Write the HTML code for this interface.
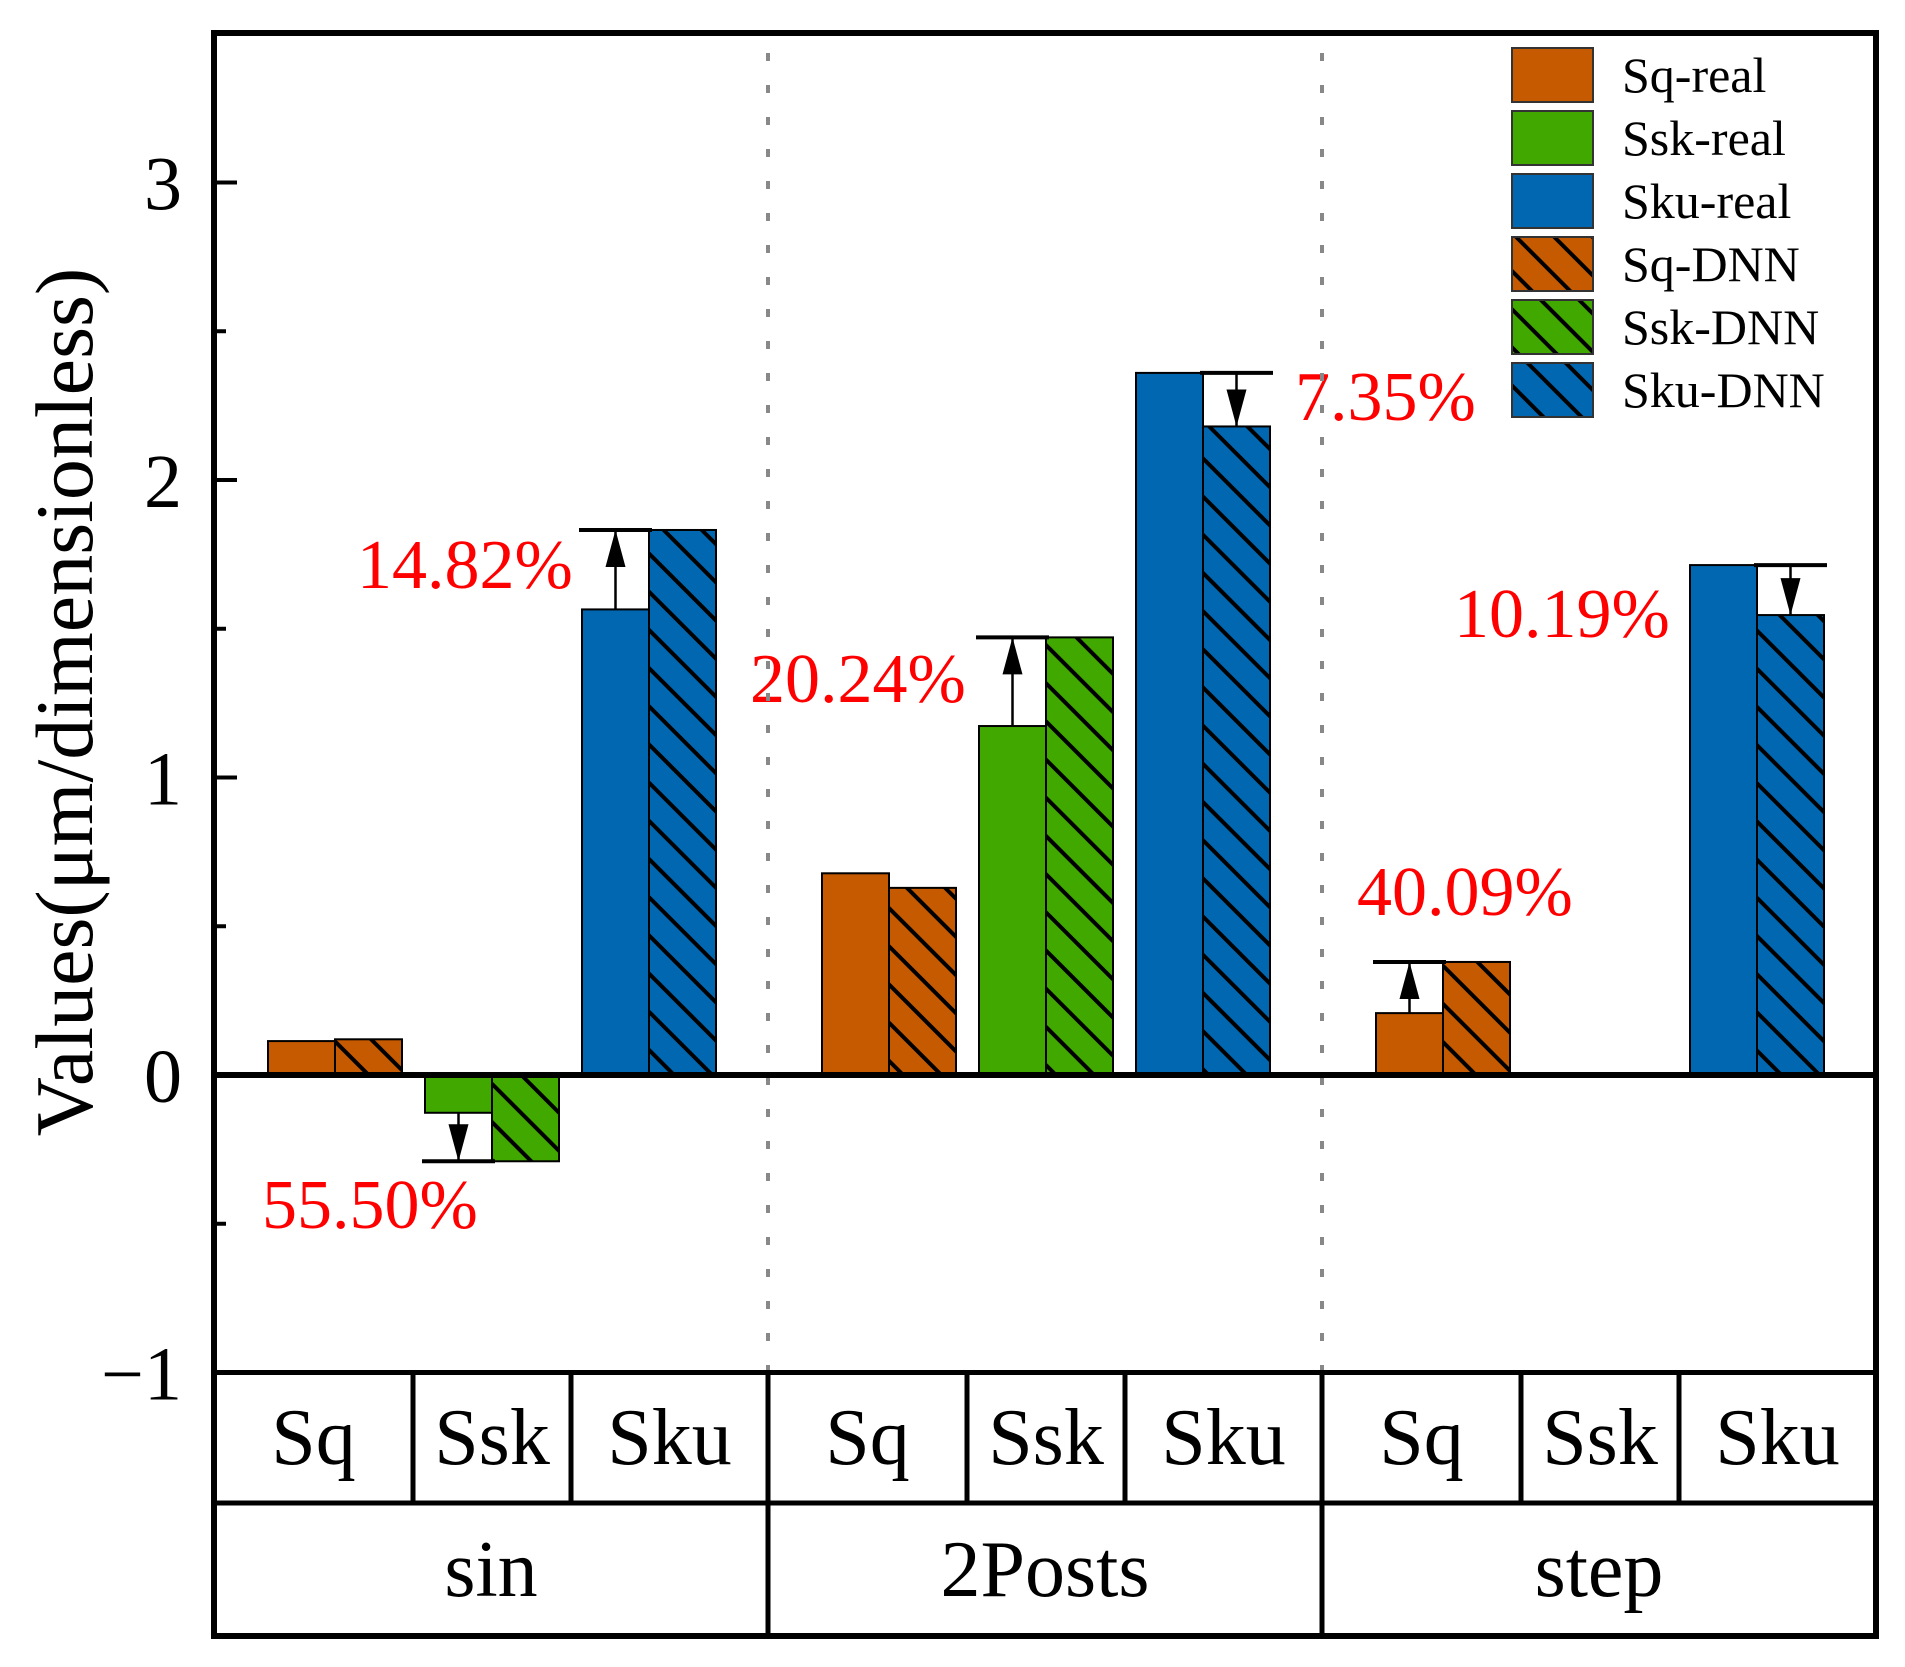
<!DOCTYPE html>
<html><head><meta charset="utf-8">
<style>
html,body{margin:0;padding:0;background:#fff;}
svg{display:block;font-family:"Liberation Serif","Times New Roman",serif;}
</style></head>
<body>
<svg id="chart" width="1905" height="1667" viewBox="0 0 1905 1667" xmlns="http://www.w3.org/2000/svg">
<defs>
<pattern id="hatch-o" patternUnits="userSpaceOnUse" width="27" height="27" patternTransform="rotate(-45)"><rect width="27" height="27" fill="#C55A00"/><line x1="13.5" y1="0" x2="13.5" y2="27" stroke="#000" stroke-width="4"/></pattern>
<pattern id="hatch-g" patternUnits="userSpaceOnUse" width="27" height="27" patternTransform="rotate(-45)"><rect width="27" height="27" fill="#41A800"/><line x1="13.5" y1="0" x2="13.5" y2="27" stroke="#000" stroke-width="4"/></pattern>
<pattern id="hatch-b" patternUnits="userSpaceOnUse" width="27" height="27" patternTransform="rotate(-45)"><rect width="27" height="27" fill="#0067B0"/><line x1="13.5" y1="0" x2="13.5" y2="27" stroke="#000" stroke-width="4"/></pattern>
</defs>
<g id="marks"></g>
<g id="frame"></g>
</svg>
<script>
const groups = ["sin", "2Posts", "step"];
const params = ["Sq", "Ssk", "Sku"];
const realValues = [0.114, -0.127, 1.565, 0.678, 1.173, 2.36, 0.208, 0, 1.714];
const dnnValues = [0.120, -0.29, 1.832, 0.629, 1.471, 2.18, 0.38, 0, 1.546];
const pctLabels = ["", "55.50%", "14.82%", "", "20.24%", "7.35%", "40.09%", "", "10.19%"];
const yTicks = [-1, 0, 1, 2, 3];
const yMinorTicks = [-0.5, 0.5, 1.5, 2.5];
const legendLabels = ["Sq-real", "Ssk-real", "Sku-real", "Sq-DNN", "Ssk-DNN", "Sku-DNN"];

const NS = "http://www.w3.org/2000/svg";
const L = 214, R = 1876, T = 33, ZERO = 1075, UNIT = 297.5;
const GW = (R - L) / 3;
const BW = 67;
const solid = ["#C55A00", "#41A800", "#0067B0"];
const hatch = ["url(#hatch-o)", "url(#hatch-g)", "url(#hatch-b)"];
const yS = v => ZERO - v * UNIT;
const xBar = i => L + Math.floor(i / 3) * GW + 54 + (i % 3) * 157;
const marks = document.getElementById('marks');
const frame = document.getElementById('frame');
function mk(tag, attrs, parent, txt) {
  const e = document.createElementNS(NS, tag);
  for (const k in attrs) e.setAttribute(k, attrs[k]);
  if (txt !== undefined) e.textContent = txt;
  (parent || marks).appendChild(e);
  return e;
}
const labelPos = {1:[262,1228],2:[357,588],4:[750,702],5:[1295,420],6:[1357,915],8:[1454,637]};

realValues.forEach((rv, i) => {
  const dv = dnnValues[i];
  const k = i % 3;
  const x = xBar(i);
  if (rv !== 0) {
    const r = mk('rect', {x: x, y: Math.min(yS(rv), ZERO), width: BW, height: Math.abs(yS(rv) - ZERO), fill: solid[k], stroke: '#000', 'stroke-width': 2});
    
    
  }
  if (dv !== 0) {
    const d = mk('rect', {x: x + BW, y: Math.min(yS(dv), ZERO), width: BW, height: Math.abs(yS(dv) - ZERO), fill: hatch[k], stroke: '#000', 'stroke-width': 2});
    
    
  }
  if (pctLabels[i]) {
    const realSmaller = Math.abs(rv) < Math.abs(dv);
    const bx = realSmaller ? x : x + BW;
    const from = realSmaller ? rv : dv;
    const to = realSmaller ? dv : rv;
    const cx = bx + BW / 2;
    const y1 = yS(from), y2 = yS(to);
    const g = mk('g', {});
    
    
    mk('line', {x1: bx - 3, x2: bx + BW + 3, y1: y2, y2: y2, stroke: '#000', 'stroke-width': 4}, g);
    mk('line', {x1: cx, x2: cx, y1: y1, y2: y2, stroke: '#000', 'stroke-width': 2.5}, g);
    const tipY = realSmaller ? y2 : y1;
    const baseY = realSmaller ? y1 : y2;
    const sign = baseY > tipY ? 1 : -1;
    mk('polygon', {points: `${cx},${tipY} ${cx-10},${tipY + sign*37} ${cx+10},${tipY + sign*37}`, fill: '#000'}, g);
    const p = labelPos[i];
    const t = mk('text', {x: p[0], y: p[1], 'font-size': 70, fill: '#FF0000'}, marks, pctLabels[i]);
    
    
  }
});

[1, 2].forEach(g => {
  const l = mk('line', {x1: L + g*GW, x2: L + g*GW, y1: T + 20, y2: yS(-1), stroke: '#888', 'stroke-width': 4, 'stroke-dasharray': '8 24'}, frame);
  
  
});
const fr = mk('rect', {x: L, y: T, width: R - L, height: 1636 - T, fill: 'none', stroke: '#000', 'stroke-width': 6}, frame);


const zl = mk('line', {x1: L, x2: R, y1: ZERO, y2: ZERO, stroke: '#000', 'stroke-width': 6}, frame);


[yS(-1), 1503].forEach(y => {
  const h = mk('line', {x1: L, x2: R, y1: y, y2: y, stroke: '#000', 'stroke-width': 5}, frame);
  
  
});
yTicks.forEach(v => {
  const tk = mk('line', {x1: L, x2: L + 23, y1: yS(v), y2: yS(v), stroke: '#000', 'stroke-width': 4}, frame);
  
  
  const lb = mk('text', {x: 182, y: yS(v) + 27, 'font-size': 76, 'text-anchor': 'end'}, frame, v < 0 ? '\u2212' + Math.abs(v) : String(v));
  
  
});
yMinorTicks.forEach(v => {
  const tk = mk('line', {x1: L, x2: L + 12, y1: yS(v), y2: yS(v), stroke: '#000', 'stroke-width': 4}, frame);
  
  
});
const yt = mk('text', {x: 0, y: 0, 'font-size': 82, 'text-anchor': 'middle', transform: 'translate(92,702) rotate(-90)'}, frame, 'Values(\u03bcm/dimensionless)');


const cellB = [0, 199, 357, GW];
groups.forEach((gname, g) => {
  const gx = L + g * GW;
  [1, 2].forEach(j => {
    const v = mk('line', {x1: gx + cellB[j], x2: gx + cellB[j], y1: yS(-1), y2: 1503, stroke: '#000', 'stroke-width': 5}, frame);
    
    
  });
  if (g > 0) {
    const v = mk('line', {x1: gx, x2: gx, y1: yS(-1), y2: 1636, stroke: '#000', 'stroke-width': 5}, frame);
    
    
  }
  params.forEach((p, j) => {
    const c = mk('text', {x: gx + (cellB[j] + cellB[j+1]) / 2, y: 1464, 'font-size': 80, 'text-anchor': 'middle'}, frame, p);
    
    
  });
  const gl = mk('text', {x: gx + GW / 2, y: 1596, 'font-size': 80, 'text-anchor': 'middle'}, frame, gname);
  
  
});
const fills = solid.concat(hatch);
legendLabels.forEach((lab, i) => {
  const g = mk('g', {}, frame);
  
  
  const y = 48 + i * 63;
  mk('rect', {x: 1512, y: y, width: 81, height: 54, fill: fills[i], stroke: '#333', 'stroke-width': 2}, g);
  mk('text', {x: 1622, y: y + 44, 'font-size': 50}, g, lab);
});
</script>
</body></html>
